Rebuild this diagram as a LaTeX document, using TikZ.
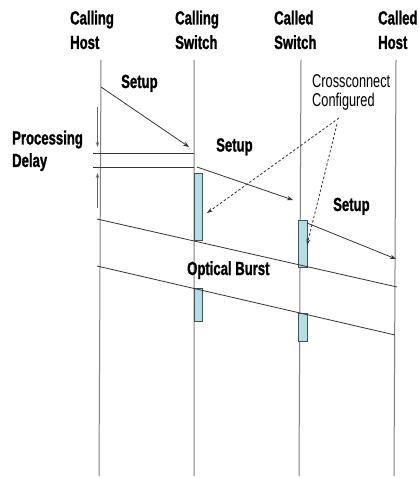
\documentclass[tikz,border=0pt]{standalone}
\usepackage{fontspec}
\setmainfont[FakeStretch=0.69,BoldFeatures={FakeBold=1.2}]{Liberation Sans}
\usetikzlibrary{arrows.meta,positioning}
\definecolor{holdblue}{RGB}{178,222,230}

\begin{document}
\begin{tikzpicture}[x=1pt,y=-1pt,
    lbl/.style={font=\bfseries\fontsize{19}{24.5}\selectfont,align=left,inner sep=0pt,anchor=north west},
    note/.style={font=\fontsize{18.5}{18.5}\selectfont,align=left,inner sep=0pt,anchor=north west},
    life/.style={draw=black!50,line width=1pt},
    msg/.style={draw=black!80,line width=0.8pt,-{Stealth[length=6pt,width=4.5pt]}},
    burst/.style={draw=black!80,line width=0.8pt},
    delay/.style={draw=black!60,line width=0.8pt,-{Stealth[length=5pt,width=3.5pt]}},
    xconn/.style={draw=black!80,line width=0.8pt,dash pattern=on 2.5pt off 2pt,-{Stealth[length=6pt,width=4pt]}},
    hold/.style={draw=black!70,fill=holdblue,line width=0.7pt}]
\useasboundingbox (0,0) rectangle (419,478);

% end points
\node[lbl] (ch) at (70,10.5) {Calling\\Host};
\node[lbl] (cs) at (175,10.5) {Calling\\Switch};
\node[lbl] (ds) at (274,10.5) {Called\\Switch};
\node[lbl] (dh) at (378,10.5) {Called\\Host};

\coordinate (chT) at (101,60);  \coordinate (chB) at (99,476);
\coordinate (csT) at (194,60);  \coordinate (csB) at (194,476);
\coordinate (dsT) at (301,60);  \coordinate (dsB) at (299,476);
\coordinate (dhT) at (396,60);  \coordinate (dhB) at (394,476);
\draw[life] (chT) -- (chB) (csT) -- (csB) (dsT) -- (dsB) (dhT) -- (dhB);

% switch hold times
\draw[hold] (194,173) rectangle (202,240);
\draw[hold] (298,220) rectangle (307,267);
\draw[hold] (194,288) rectangle (202,321);
\draw[hold] (298,313) rectangle (307,341);

% setup messages
\coordinate (s1a) at (101,87);  \coordinate (s1b) at (189,147);
\coordinate (s2a) at (197,167); \coordinate (s2b) at (293,200);
\coordinate (s3a) at (307,223); \coordinate (s3b) at (396,259);
\draw[msg] (s1a) -- (s1b);
\draw[msg] (s2a) -- (s2b);
\draw[msg] (s3a) -- (s3b);
\node[lbl,anchor=base west] (st1) at (121,88) {Setup};
\node[lbl,anchor=base west] (st2) at (216,151.5) {Setup};
\node[lbl,anchor=base west] (st3) at (333,211) {Setup};

% processing delay
\coordinate (pd1) at (93,153); \coordinate (pd1e) at (194,153);
\coordinate (pd2) at (93,167); \coordinate (pd2e) at (194,167);
\draw[burst] (pd1) -- (pd1e) (pd2) -- (pd2e);
\coordinate (dn1) at (97.5,107); \coordinate (dn2) at (97.5,147);
\coordinate (up1) at (97.5,208); \coordinate (up2) at (97.5,173);
\draw[delay] (dn1) -- (dn2);
\draw[delay] (up1) -- (up2);
\node[lbl,font=\bfseries\fontsize{19}{22.5}\selectfont] (pd) at (12,130.5) {Processing\\Delay};

% crossconnect
\node[note] (xc) at (312,74.5) {Crossconnect\\Configured};
\coordinate (xo) at (339,118); \coordinate (xo2) at (337,124);
\coordinate (xa) at (207,213); \coordinate (xb) at (307,245);
\draw[xconn] (xo) -- (xa);
\draw[xconn] (xo2) -- (xb);

% optical burst
\coordinate (b1a) at (97,219); \coordinate (b1b) at (397,287);
\coordinate (b2a) at (97,266); \coordinate (b2b) at (395,335);
\draw[burst] (b1a) -- (b1b) (b2a) -- (b2b);
\node[lbl,anchor=base west] (ob) at (187,275) {Optical Burst};
\end{tikzpicture}
\end{document}
